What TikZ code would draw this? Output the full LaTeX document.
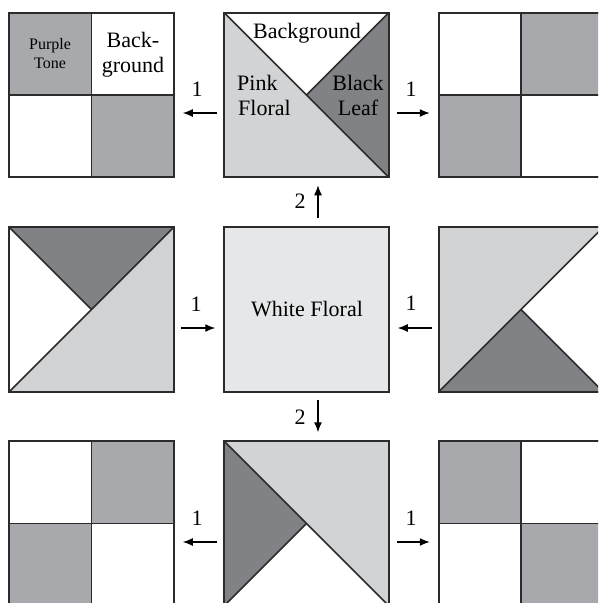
\documentclass[tikz,border=0pt]{standalone}
\usepackage{fontspec}
\setmainfont{Liberation Serif}
\usetikzlibrary{arrows.meta}
\definecolor{lightT}{HTML}{D1D3D4}
\definecolor{midT}{HTML}{A7A9AC}
\definecolor{darkT}{HTML}{808285}
\definecolor{paleT}{HTML}{E6E7E8}
\definecolor{inkT}{HTML}{2B2B2B}
\tikzset{
  sq/.style={draw=inkT,line width=1.7pt,minimum size=164.5pt,inner sep=0pt,outer sep=0pt},
  seam/.style={draw=inkT,line width=1.6pt},
  arr/.style={-{Latex[length=10pt,width=8pt]},line width=1.3pt,black},
  lab/.style={font=\fontsize{22}{25}\selectfont,text=black,inner sep=0pt,align=center},
  smalllab/.style={font=\fontsize{16}{19}\selectfont,text=black,inner sep=0pt,align=center},
  num/.style={font=\fontsize{22}{25}\selectfont,text=black,inner sep=0pt}
}
\newcommand{\tri}[4]{\fill[#1] (#2) -- (#3) -- (#4) -- cycle;}
\begin{document}
\begin{tikzpicture}[x=1pt,y=-1pt]
\useasboundingbox (0,0) rectangle (598,603);
\clip (0,0) rectangle (598,603);
\fill[white] (0,0) rectangle (598,603);
% squares
\node[sq] (tl) at (91.5,95) {};
\node[sq] (tc) at (306.5,95) {};
\node[sq] (tr) at (521,95) {};
\node[sq] (ml) at (91.5,309.5) {};
\node[sq,fill=paleT] (mc) at (306.5,309.5) {};
\node[sq] (mr) at (521,309.5) {};
\node[sq] (bl) at (91.5,523.5) {};
\node[sq] (bc) at (306.5,523.5) {};
\node[sq] (br) at (521,523.5) {};
% four-patch squares
\fill[midT] (tl.north west) rectangle (tl.center);
\fill[midT] (tl.center) rectangle (tl.south east);
\fill[midT] (tr.north east) rectangle (tr.center);
\fill[midT] (tr.center) rectangle (tr.south west);
\fill[midT] (bl.north east) rectangle (bl.center);
\fill[midT] (bl.center) rectangle (bl.south west);
\fill[midT] (br.north west) rectangle (br.center);
\fill[midT] (br.center) rectangle (br.south east);
\foreach \s in {tl,tr,bl,br}{
  \draw[sq,minimum size=0pt] (\s.north west) rectangle (\s.south east);
  \draw[seam] (\s.north) -- (\s.south);
  \draw[seam] (\s.west) -- (\s.east);
}
% triangle squares
\tri{lightT}{tc.north west}{tc.south east}{tc.south west}
\tri{darkT}{tc.north east}{tc.south east}{tc.center}
\draw[sq,minimum size=0pt] (tc.north west) rectangle (tc.south east);
\draw[seam] (tc.north west) -- (tc.south east);
\draw[seam] (tc.north east) -- (tc.center);
\tri{darkT}{ml.north west}{ml.north east}{ml.center}
\tri{lightT}{ml.south west}{ml.north east}{ml.south east}
\draw[sq,minimum size=0pt] (ml.north west) rectangle (ml.south east);
\draw[seam] (ml.south west) -- (ml.north east);
\draw[seam] (ml.north west) -- (ml.center);
\tri{lightT}{mr.north west}{mr.north east}{mr.south west}
\tri{darkT}{mr.south west}{mr.center}{mr.south east}
\draw[sq,minimum size=0pt] (mr.north west) rectangle (mr.south east);
\draw[seam] (mr.south west) -- (mr.north east);
\draw[seam] (mr.center) -- (mr.south east);
\tri{darkT}{bc.north west}{bc.center}{bc.south west}
\tri{lightT}{bc.north west}{bc.north east}{bc.south east}
\draw[sq,minimum size=0pt] (bc.north west) rectangle (bc.south east);
\draw[seam] (bc.north west) -- (bc.south east);
\draw[seam] (bc.center) -- (bc.south west);
% connectors
\draw[arr,shorten <=7pt,shorten >=9pt] ([yshift=-18pt]tc.west) -- ([yshift=-18pt]tl.east);
\draw[arr,shorten <=8pt,shorten >=9pt] ([yshift=-18pt]tc.east) -- ([yshift=-18pt]tr.west);
\draw[arr,shorten <=9pt,shorten >=8pt] ([xshift=11.5pt]mc.north) -- ([xshift=11.5pt]tc.south);
\draw[arr,shorten <=8pt,shorten >=9pt] ([xshift=11.5pt]mc.south) -- ([xshift=11.5pt]bc.north);
\draw[arr,shorten <=7pt,shorten >=9pt] ([yshift=-18.5pt]ml.east) -- ([yshift=-18.5pt]mc.west);
\draw[arr,shorten <=7pt,shorten >=9pt] ([yshift=-18.5pt]mr.west) -- ([yshift=-18.5pt]mc.east);
\draw[arr,shorten <=7pt,shorten >=9pt] ([yshift=-18.5pt]bc.west) -- ([yshift=-18.5pt]bl.east);
\draw[arr,shorten <=8pt,shorten >=9pt] ([yshift=-18.5pt]bc.east) -- ([yshift=-18.5pt]br.west);
% labels
\node[smalllab] (purple) at (50,54) {Purple\\Tone};
\node[lab] (backg) at (133,54.5) {Back-\\ground};
\node[lab] (bground) at (307,33) {Background};
\node[lab,align=left,anchor=west] (pink) at (237,95) {Pink\\\hspace*{1pt}Floral};
\node[lab] (black) at (358,95.5) {Black\\Leaf};
\node[lab] (white) at (307,309) {White Floral};
\node[num] (n1) at (197,89) {1};
\node[num] (n2) at (411,89) {1};
\node[num] (n3) at (300,201) {2};
\node[num] (n4) at (196,304) {1};
\node[num] (n5) at (411,303) {1};
\node[num] (n6) at (300,417) {2};
\node[num] (n7) at (197,518) {1};
\node[num] (n8) at (411,518) {1};
\end{tikzpicture}
\end{document}
